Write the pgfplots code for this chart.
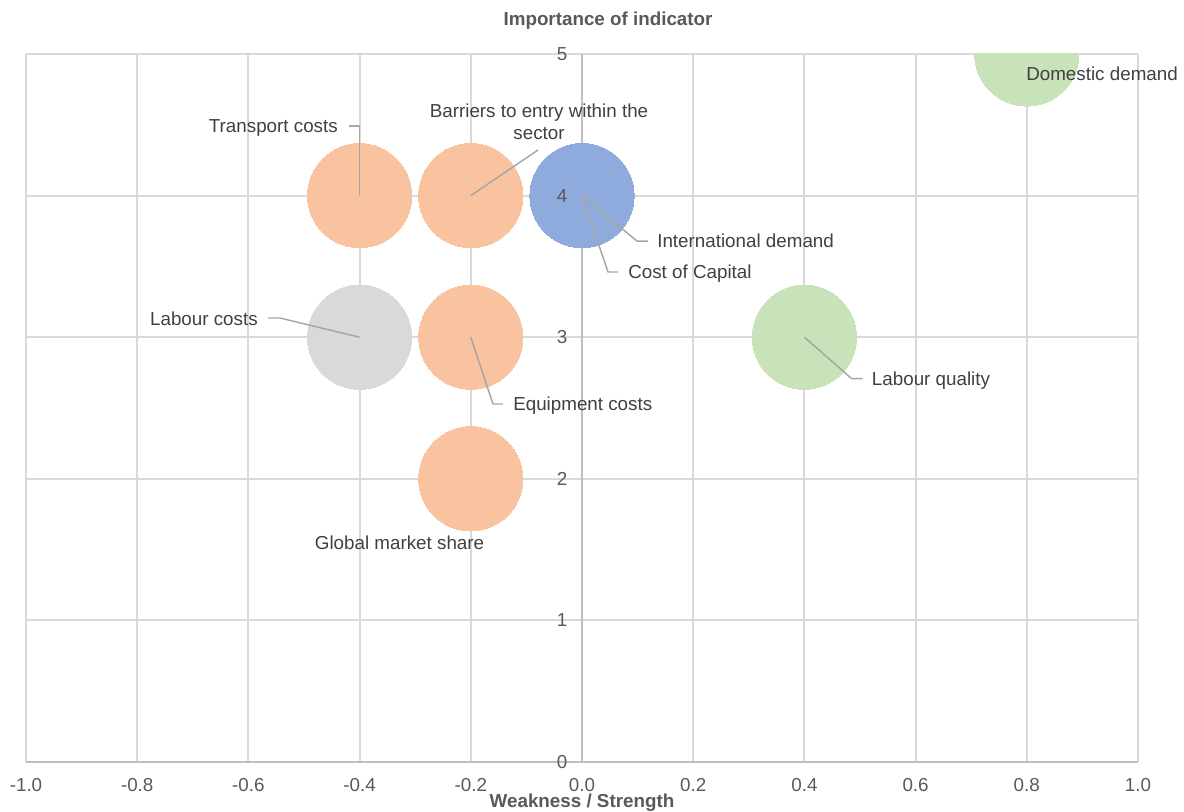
\documentclass[border=0pt]{standalone}
\usepackage{pgfplots}
\pgfplotsset{compat=1.18}
\usepackage{fontspec}
\setmainfont{Liberation Sans}

\definecolor{peach}{HTML}{F8C39E}
\definecolor{bblue}{HTML}{8FAADC}
\definecolor{bgreen}{HTML}{C8E2B9}
\definecolor{bgray}{HTML}{D9D9D9}
\definecolor{gridc}{HTML}{D9D9D9}
\definecolor{axisc}{HTML}{BFBFBF}
\definecolor{leader}{HTML}{A6A6A6}
\definecolor{lbl}{HTML}{404040}
\definecolor{tickc}{HTML}{595959}

% tick labels are drawn above the bubbles
\pgfplotsset{
  layers/labels above plots/.define layer set={
    axis background,axis grid,axis ticks,axis lines,pre main,main,
    axis tick labels,axis descriptions,axis foreground
  }{
    grid style={/pgfplots/on layer=axis grid},
    tick style={/pgfplots/on layer=axis ticks},
    axis line style={/pgfplots/on layer=axis lines},
    label style={/pgfplots/on layer=axis descriptions},
    title style={/pgfplots/on layer=axis descriptions},
    ticklabel style={/pgfplots/on layer=axis tick labels},
  },
}

\newcommand\lblfont{\fontsize{14.1}{16.2}\selectfont}
\tikzset{
  lead/.style={draw=leader, line width=1.1pt},
  lbl/.style={font=\lblfont, text=lbl, inner sep=0pt},
  bubble/.style={draw=#1, fill=#1, line width=0pt},
}

\begin{document}
\begin{tikzpicture}
\path (-19.5pt,-36.75pt) rectangle (868.5pt,571.5pt);
\begin{axis}[
  set layers=labels above plots,
  at={(0pt,0pt)}, anchor=south west,
  width=834pt, height=531pt, scale only axis,
  xmin=-1, xmax=1, ymin=0, ymax=5,
  axis lines*=middle,
  axis line style={draw=axisc, line width=1.5pt},
  grid=major,
  major grid style={draw=gridc, line width=1.5pt},
  major tick length=0pt,
  xtick={-1,-0.8,-0.6,-0.4,-0.2,0,0.2,0.4,0.6,0.8,1},
  xticklabels={-1.0,-0.8,-0.6,-0.4,-0.2,0.0,0.2,0.4,0.6,0.8,1.0},
  ytick={0,1,2,3,4,5},
  yticklabels={0,1,2,3,4,5},
  hide obscured x ticks=false,
  hide obscured y ticks=false,
  xticklabel style={anchor=center, yshift=-17.25pt, font=\lblfont, text=tickc, inner sep=0pt},
  yticklabel style={anchor=center, xshift=-15pt, font=\lblfont, text=tickc, inner sep=0pt},
  xlabel={Weakness / Strength},
  xlabel style={at={(axis description cs:0.5,0)}, anchor=base, yshift=-33.75pt,
    font=\lblfont\bfseries, text=tickc, inner sep=0pt},
  title={Importance of indicator},
  title style={at={(axis description cs:0.5234,1)}, anchor=base, yshift=15pt,
    font=\lblfont\bfseries, text=tickc, inner sep=0pt},
  clip marker paths=true,
  every axis plot/.append style={only marks, mark=*, mark size=39.1pt},
]
% bubbles
\addplot[mark options={bubble=peach}] coordinates {(-0.4,4) (-0.2,4) (-0.2,3) (-0.2,2)};
\addplot[mark options={bubble=bgray}] coordinates {(-0.4,3)};
\addplot[mark options={bubble=bgreen}] coordinates {(0.8,5) (0.4,3)};
\addplot[mark options={bubble=bblue}] coordinates {(0,4) (0,4)};

% leader lines
\draw[lead] (axis cs:-0.4,4) -- (axis cs:-0.4,4.4915) -- (axis cs:-0.419,4.4915);
\draw[lead] (axis cs:-0.2,4) -- (axis cs:-0.0791,4.322);
\draw[lead] (axis cs:0,4) -- (axis cs:0.0989,3.679) -- (axis cs:0.1187,3.679);
\draw[lead] (axis cs:0,4) -- (axis cs:0.0468,3.4605) -- (axis cs:0.0647,3.4605);
\draw[lead] (axis cs:-0.4,3) -- (axis cs:-0.5432,3.1356) -- (axis cs:-0.5647,3.1356);
\draw[lead] (axis cs:-0.2,3) -- (axis cs:-0.1601,2.5282) -- (axis cs:-0.1421,2.5282);
\draw[lead] (axis cs:0.4,3) -- (axis cs:0.4851,2.707) -- (axis cs:0.5049,2.707);

% data labels
\node[lbl, anchor=base east] at (axis cs:-0.4388,4.445) {Transport costs};
\node[lbl, anchor=base] at (axis cs:-0.0773,4.548) {Barriers to entry within the};
\node[lbl, anchor=base] at (axis cs:-0.0773,4.393) {sector};
\node[lbl, anchor=base west] at (axis cs:0.1349,3.630) {International demand};
\node[lbl, anchor=base west] at (axis cs:0.0827,3.418) {Cost of Capital};
\node[lbl, anchor=base east] at (axis cs:-0.5827,3.081) {Labour costs};
\node[lbl, anchor=base west] at (axis cs:-0.1241,2.479) {Equipment costs};
\node[lbl, anchor=base west] at (axis cs:0.521,2.662) {Labour quality};
\node[lbl, anchor=base] at (axis cs:-0.3282,1.504) {Global market share};
\coordinate (dd) at (axis cs:0.7986,4.816);
\end{axis}
\node[lbl, anchor=base west] at (dd) {Domestic demand};
\end{tikzpicture}
\end{document}
